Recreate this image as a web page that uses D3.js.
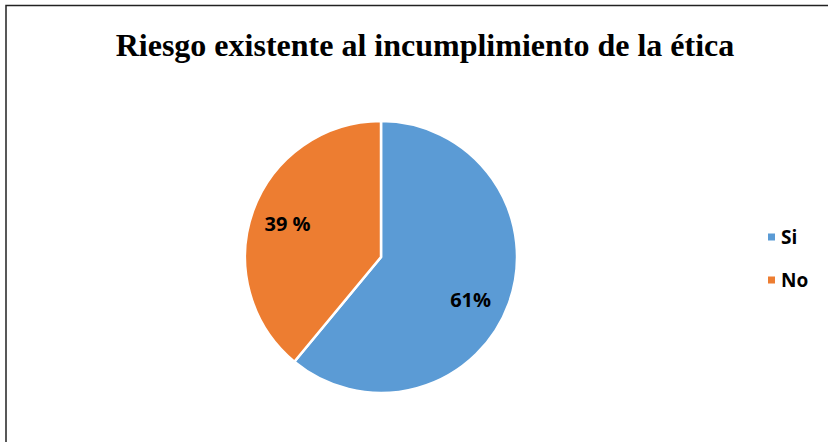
<!DOCTYPE html>
<html>
<head>
<meta charset="utf-8">
<script src="https://cdn.jsdelivr.net/npm/d3@7"></script>
<style>
  body { margin: 0; background: #fff; }
  .title { font-family: "Liberation Serif", "Times New Roman", serif; font-weight: bold; }
  .lbl, .legText { font-family: "Open Sans", "Noto Sans", sans-serif; font-weight: bold; }
</style>
</head>
<body>
<div id="chart"></div>
<script>
// Data
var categories = ["Si", "No"];
var values = [61, 39];
var labels = ["61%", "39 %"];
var colors = ["#5B9BD5", "#ED7D31"];

var width = 828;
var height = 442;

var svg = d3.select("#chart")
  .append("svg")
  .attr("width", width)
  .attr("height", height);

// chart frame (only top and left edges are visible in the picture)
svg.append("rect")
  .attr("x", 6)
  .attr("y", 5.5)
  .attr("width", 840)
  .attr("height", 460)
  .attr("fill", "none")
  .attr("stroke", "#222")
  .attr("stroke-width", 1.5);

svg.append("text")
  .attr("class", "title")
  .attr("x", 425)
  .attr("y", 56)
  .attr("text-anchor", "middle")
  .attr("font-size", 32)
  .text("Riesgo existente al incumplimiento de la ética");

// pie
var cx = 381, cy = 257, radius = 136;

var pie = d3.pie().sort(null).value(function (d) { return d; });
var arcs = pie(values);

var arc = d3.arc().innerRadius(0).outerRadius(radius);

var g = svg.append("g").attr("transform", "translate(" + cx + "," + cy + ")");

g.selectAll("path")
  .data(arcs)
  .enter()
  .append("path")
  .attr("d", arc)
  .attr("fill", function (d, i) { return colors[i]; })
  .attr("stroke", "#fff")
  .attr("stroke-width", 2.5);

//label positions: the 61% label sits a bit lower than its centroid in the original
var labelArc = d3.arc().innerRadius(radius * 0.73).outerRadius(radius * 0.73);

g.selectAll(".lbl")
  .data(arcs)
  .enter()
  .append("text")
  .attr("class", "lbl")
  .attr("transform", function (d) {
    var mid = (d.startAngle + d.endAngle) / 2;
    if (d.index === 0) mid += 0.1;
    var c = labelArc.centroid({startAngle: mid, endAngle: mid});
    return "translate(" + c[0] + "," + c[1] + ")";
  })
  .attr("text-anchor", "middle")
  .attr("dy", "0.36em")
  .attr("font-size", 20)
  .attr("fill", "#000")
  .text(function (d, i) { return labels[i]; });

// legend
var legY = d3.scalePoint().domain(categories).range([237, 280]);

var leg = svg.selectAll(".leg")
  .data(categories)
  .enter()
  .append("g")
  .attr("class", "leg")
  .attr("transform", function (d) { return "translate(768," + legY(d) + ")"; });

leg.append("rect")
  .attr("x", 0)
  .attr("y", -3.5)
  .attr("width", 7)
  .attr("height", 7)
  .attr("fill", function (d, i) { return colors[i]; });

leg.append("text")
  .attr("class", "legText")
  .attr("x", 13)
  .attr("dy", "0.36em")
  .attr("font-size", 19)
  .text(function (d) { return d; });
</script>
</body>
</html>
